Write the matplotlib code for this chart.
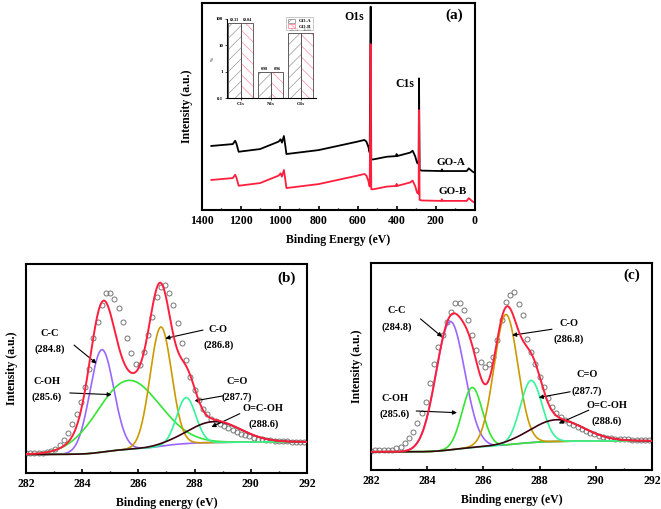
import numpy as np
import matplotlib
matplotlib.use('Agg')
import matplotlib.pyplot as plt
from matplotlib.ticker import MultipleLocator

plt.rcParams['font.family'] = ['Liberation Serif', 'DejaVu Serif']
plt.rcParams['font.weight'] = 'bold'
plt.rcParams['hatch.linewidth'] = 0.5

# survey spectra (a)
survey_be = [1350, 1240, 1228, 1222, 1210, 1100, 1005, 995, 988, 978, 970, 965, 800, 600,
             565, 555, 545, 538, 533, 530, 520, 450, 402, 400, 398, 330, 318, 305, 295, 287,
             285, 282, 270, 170, 168, 165, 40, 30, 20, 10, 0]
go_a = [0.309, 0.318, 0.334, 0.322, 0.281, 0.294, 0.330, 0.341, 0.325, 0.357, 0.305, 0.270,
        0.289, 0.330, 0.338, 0.330, 0.305, 0.277, 0.981, 0.244, 0.244, 0.257, 0.260, 0.270,
        0.260, 0.277, 0.286, 0.260, 0.228, 0.222, 0.635, 0.193, 0.190, 0.188, 0.196, 0.188,
        0.188, 0.201, 0.193, 0.185, 0.180]
go_b = [0.145, 0.154, 0.170, 0.158, 0.117, 0.130, 0.166, 0.177, 0.161, 0.193, 0.141, 0.106,
        0.125, 0.166, 0.174, 0.166, 0.141, 0.113, 0.800, 0.100, 0.100, 0.113, 0.116, 0.126,
        0.116, 0.133, 0.142, 0.116, 0.084, 0.078, 0.482, 0.049, 0.046, 0.044, 0.052, 0.044,
        0.044, 0.057, 0.049, 0.041, 0.036]

# inset: atomic %
elements = ['C1s', 'N1s', 'O1s']
pct_a = [69.33, 0.98, 29.70]
pct_b = [69.04, 0.96, 30.00]

# C1s high resolution, measured points (b) and (c)
c1s_be = np.arange(282.0, 291.95, 0.15)
meas_b = [0.095, 0.096, 0.096, 0.097, 0.098, 0.099, 0.105, 0.117, 0.133, 0.160, 0.192, 0.233,
          0.284, 0.340, 0.412, 0.500, 0.644, 0.724, 0.804, 0.863, 0.859, 0.831, 0.788, 0.724,
          0.644, 0.572, 0.524, 0.516, 0.580, 0.660, 0.748, 0.843, 0.888, 0.899, 0.859, 0.804,
          0.716, 0.620, 0.540, 0.460, 0.396, 0.348, 0.308, 0.280, 0.260, 0.248, 0.236, 0.225,
          0.216, 0.204, 0.196, 0.188, 0.181, 0.176, 0.169, 0.165, 0.161, 0.158, 0.157, 0.155,
          0.153, 0.152, 0.151, 0.150, 0.150, 0.150, 0.150]
meas_c = [0.094, 0.095, 0.096, 0.096, 0.097, 0.098, 0.105, 0.113, 0.129, 0.153, 0.185, 0.225,
          0.273, 0.330, 0.418, 0.514, 0.595, 0.651, 0.715, 0.764, 0.807, 0.807, 0.772, 0.723,
          0.651, 0.579, 0.523, 0.498, 0.514, 0.547, 0.627, 0.723, 0.812, 0.844, 0.860, 0.804,
          0.748, 0.635, 0.571, 0.514, 0.450, 0.402, 0.346, 0.305, 0.273, 0.257, 0.241, 0.228,
          0.217, 0.209, 0.198, 0.188, 0.180, 0.172, 0.164, 0.161, 0.156, 0.153, 0.151, 0.150,
          0.148, 0.148, 0.146, 0.146, 0.145, 0.145, 0.145]

# fitted components: name, label, center, height, fwhm
comp_names = ['C-C', 'C-OH', 'C-O', 'C=O', 'O=C-OH']
comp_pos = [284.8, 285.6, 286.8, 287.7, 288.6]
comp_colors = ['#9a66ff', '#33e633', '#cc9a00', '#33f599', '#3a0010']
center_b = [284.7, 285.65, 286.8, 287.7, 288.7]
height_b = [0.49, 0.33, 0.57, 0.22, 0.10]
fwhm_b = [1.0, 2.6, 0.9, 0.8, 2.2]
center_c = [284.82, 285.6, 286.8, 287.7, 288.62]
height_c = [0.62, 0.29, 0.63, 0.30, 0.105]
fwhm_c = [1.2, 0.85, 1.0, 0.9, 2.2]
bg_b = (0.089, 0.149)
bg_c = (0.088, 0.141)

# label/arrow positions (data coords): text x, text y, arrow tail, arrow head
notes_b = [(282.85, 0.63, (283.71, 0.612), (284.51, 0.524)),
           (282.75, 0.40, (283.56, 0.383), (285.05, 0.375)),
           (288.85, 0.65, (288.3, 0.684), (286.96, 0.644)),
           (289.5, 0.40, (289.01, 0.369), (288.0, 0.345)),
           (290.45, 0.27, (289.61, 0.284), (288.6, 0.22))]
notes_c = [(282.9, 0.73, (283.76, 0.73), (284.53, 0.643)),
           (282.85, 0.305, (283.61, 0.285), (285.06, 0.277)),
           (289.05, 0.67, (288.44, 0.68), (287.02, 0.651)),
           (289.68, 0.42, (289.09, 0.378), (287.97, 0.35)),
           (290.4, 0.273, (289.75, 0.289), (288.68, 0.225))]

fig = plt.figure(figsize=(6.61, 5.09), dpi=100)


def style_ax(ax):
    for s in ax.spines.values():
        s.set_linewidth(1.5)
    ax.tick_params(direction='in', length=3, width=1.2, labelsize=8.5)
    ax.tick_params(which='minor', direction='in', length=1.8, width=1)
    ax.set_yticks([])


# ---- (a) survey
ax = fig.add_axes([0.305, 0.5874, 0.413, 0.4073])
ax.plot(survey_be, go_a, color='black', lw=1.3)
ax.plot(survey_be, go_b, color='#ff1f3d', lw=1.3)
ax.set_xlim(1400, 0)
ax.set_ylim(0, 1)
ax.xaxis.set_major_locator(MultipleLocator(200))
ax.xaxis.set_minor_locator(MultipleLocator(100))
style_ax(ax)
ax.set_xlabel('Binding Energy (eV)', fontsize=8.5, fontweight='bold', labelpad=5)
ax.set_ylabel('Intensity (a.u.)', fontsize=8.5, fontweight='bold', labelpad=6)
ax.text(615, 0.93, 'O1s', fontsize=8.5, ha='center', va='center')
ax.text(357, 0.61, 'C1s', fontsize=8.5, ha='center', va='center')
ax.text(120, 0.228, 'GO-A', fontsize=8, ha='center', va='center')
ax.text(112, 0.088, 'GO-B', fontsize=8, ha='center', va='center')
ax.text(103, 0.94, '(a)', fontsize=11, ha='center', va='center')

# inset
axi = fig.add_axes([0.343, 0.8069, 0.1346, 0.1558])
xpos = np.arange(len(elements))
w = 0.42
ba = axi.bar(xpos - w / 2, pct_a, w, color='white', edgecolor='#555555', hatch='///',
             lw=0.6, label='GO-A', bottom=0)
bb = axi.bar(xpos + w / 2, pct_b, w, color='white', edgecolor='#555555', lw=0.6,
             label='GO-B')
for r in bb:
    r.set_hatch('\\\\\\')
for r in ba:
    r.set_edgecolor('#999999')
for r in bb:
    r.set_edgecolor('#ff8aa0')
# outline on top
axi.bar(xpos - w / 2, pct_a, w, fill=False, edgecolor='#555555', lw=0.6)
axi.bar(xpos + w / 2, pct_b, w, fill=False, edgecolor='#555555', lw=0.6)
axi.set_yscale('log')
axi.set_ylim(0.1, 100)
axi.set_xlim(-0.47, 2.5)
axi.set_xticks(xpos)
axi.set_xticklabels(elements)
axi.set_yticks([0.1, 1, 10, 100])
axi.set_yticklabels(['0.1', '1', '10', '100'])
axi.minorticks_off()
axi.tick_params(labelsize=3.5, length=1.5, width=0.5, pad=1)
for s in ['top', 'right']:
    axi.spines[s].set_visible(False)
for s in ['left', 'bottom']:
    axi.spines[s].set_linewidth(0.8)
axi.set_ylabel('%', fontsize=3.5, labelpad=1)
for i in range(len(elements)):
    axi.text(xpos[i] - w / 2, pct_a[i] * 1.08, '%.2f' % pct_a[i], fontsize=3, ha='center', va='bottom')
    axi.text(xpos[i] + w / 2, pct_b[i] * 1.08, '%.2f' % pct_b[i], fontsize=3, ha='center', va='bottom')
leg = axi.legend(handles=[ba, bb], fontsize=3.5, loc='upper right', bbox_to_anchor=(1.0, 1.05),
                 frameon=True, fancybox=False, edgecolor='#888888', handlelength=1.6,
                 handleheight=0.8, borderpad=0.3, labelspacing=0.2)
leg.get_frame().set_linewidth(0.4)
axi.patch.set_alpha(0)


# ---- (b), (c) C1s
def c1s_panel(rect, meas, centers, heights, fwhms, bg, notes, tag, tagpos):
    ax = fig.add_axes(rect)
    x = np.linspace(282, 292, 600)
    sig = [f / 2.3548 for f in fwhms]
    peaks = [h * np.exp(-0.5 * ((x - c) / s) ** 2) for c, h, s in zip(centers, heights, sig)]
    total = np.sum(peaks, axis=0)
    cum = np.cumsum(total)
    back = bg[0] + (bg[1] - bg[0]) * cum / cum[-1]
    ax.plot(c1s_be, meas, 'o', ms=3.6, mfc='none', mec='#777777', mew=0.7, zorder=2)
    for p, col in zip(peaks, comp_colors):
        ax.plot(x, back + p, color=col, lw=1.2, zorder=3)
    ax.plot(x, back + total, color='#ff1f3d', lw=1.4, zorder=4)
    for (tx, ty, tail, head), name, pos in zip(notes, comp_names, comp_pos):
        ax.text(tx, ty, name + '\n(' + str(pos) + ')', fontsize=7.5, ha='center', va='center',
                linespacing=1.9)
        ax.annotate('', xy=head, xytext=tail,
                    arrowprops=dict(arrowstyle='-|>', color='black', lw=0.8,
                                    mutation_scale=6, shrinkA=0, shrinkB=0))
    ax.set_xlim(282, 292)
    ax.set_ylim(0, 1)
    ax.xaxis.set_major_locator(MultipleLocator(2))
    ax.xaxis.set_minor_locator(MultipleLocator(1))
    style_ax(ax)
    ax.set_xlabel('Binding energy (eV)', fontsize=8.5, fontweight='bold', labelpad=5)
    ax.set_ylabel('Intensity (a.u.)', fontsize=8.5, fontweight='bold', labelpad=6)
    ax.text(tagpos[0], tagpos[1], tag, fontsize=11, ha='center', va='center')
    return ax


c1s_panel([0.0393, 0.0707, 0.4251, 0.4106], meas_b, center_b, height_b, fwhm_b, bg_b,
          notes_b, '(b)', (291.27, 0.93))
c1s_panel([0.5613, 0.0766, 0.4251, 0.4067], meas_c, center_c, height_c, fwhm_c, bg_c,
          notes_c, '(c)', (291.29, 0.94))

fig.savefig('out.png', dpi=100)
